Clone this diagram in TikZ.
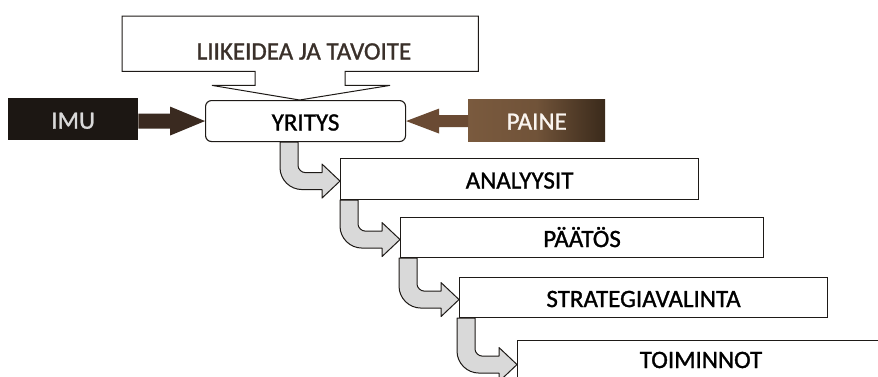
\documentclass[tikz,border=0pt]{standalone}
\usepackage{fontspec}
\setmainfont{Carlito}[FakeBold=1.1]
\usetikzlibrary{calc}
\definecolor{ink}{HTML}{1E1A17}
\definecolor{imubg}{HTML}{1C1713}
\definecolor{imuarrow}{HTML}{3A2A20}
\definecolor{painearrow}{HTML}{6A4A33}
\definecolor{painelight}{HTML}{7A5A3E}
\definecolor{painedark}{HTML}{3A2A1B}
\definecolor{bentfill}{HTML}{D9D9D9}
\definecolor{toptext}{HTML}{3A302A}
\newcommand{\bentarr}[2]{%
  \filldraw[bent] let \p1=(#1.south), \p2=($(#2.west)+(0,2)$) in
    (\x2-60pt,\y1) -- (\x2-60pt,\y2+13.5pt)
    .. controls (\x2-60pt,\y2+1.4pt) and (\x2-50.1pt,\y2-8.5pt) .. (\x2-38pt,\y2-8.5pt)
    -- (\x2-18pt,\y2-8.5pt) -- (\x2-18pt,\y2-17pt) -- (\x2,\y2)
    -- (\x2-18pt,\y2+17pt) -- (\x2-18pt,\y2+8.5pt) -- (\x2-35pt,\y2+8.5pt)
    .. controls (\x2-38.1pt,\y2+8.5pt) and (\x2-42pt,\y2+11.6pt) .. (\x2-42pt,\y2+15.5pt)
    -- (\x2-42pt,\y1) -- cycle;}
\begin{document}
\begin{tikzpicture}[x=1pt,y=-1pt,
  lbl/.style={font=\fontsize{25}{30}\selectfont, text height=19pt, text depth=0pt, inner sep=0pt},
  stage/.style={lbl, draw=ink, line width=1.1pt, fill=white, anchor=north west, minimum height=41pt},
  bent/.style={draw=ink, line width=1pt, fill=bentfill, line join=round},
  framebox/.style={draw=none, anchor=north west, inner sep=0pt},
]
\useasboundingbox (0,0) rectangle (878,376);
\clip (0,0) rectangle (878,376);
\fill[white] (0,0) rectangle (878,376);

% top frame
\node[framebox, minimum width=356pt, minimum height=55pt] (top) at (122,16) {};
\node[lbl, text=toptext] (toptxt) at (304,50) {LIIKEIDEA JA TAVOITE};

% YRITYS
\node[lbl, draw=ink, line width=1.1pt, rounded corners=6pt, fill=white,
      minimum width=200pt, minimum height=41pt, anchor=north west] (yr) at (205,100) {YRITYS};

% funnel outline of the top frame
\draw[ink, line width=1pt, line join=miter]
  (top.north west) -- (top.north east) -- (top.south east)
  -- ($(top.south west)+(223,0)$) -- ($(top.south west)+(223,14)$)
  -- ($(top.south west)+(268,14)$) -- ($(yr.north)+(-6,0)$)
  -- ($(top.south west)+(90,14)$) -- ($(top.south west)+(133,14)$)
  -- ($(top.south west)+(133,0)$) -- (top.south west) -- cycle;

% IMU and PAINE
\node[lbl, fill=imubg, text=white!85!black, minimum width=130pt, minimum height=42pt,
      anchor=north west] (imu) at (8,98) {IMU};
\shade[left color=painelight, right color=painedark, middle color=painelight!85!painedark]
  (468,99) rectangle (605,141);
\node[lbl, text=white!92!brown, minimum width=137pt, minimum height=42pt,
      anchor=north west] (pa) at (468,99) {PAINE};

\fill[imuarrow] let \p1=(imu.east), \p2=(yr.west) in
  (\x1,\y2+7.5pt) -- (\x2-35pt,\y2+7.5pt) -- (\x2-35pt,\y2+14.5pt) -- (\x2,\y2)
  -- (\x2-35pt,\y2-14.5pt) -- (\x2-35pt,\y2-7.5pt) -- (\x1,\y2-7.5pt) -- cycle;
\fill[painearrow] let \p1=(pa.west), \p2=(yr.east) in
  (\x1,\y2+6pt) -- (\x2+33pt,\y2+6pt) -- (\x2+33pt,\y2+12.5pt) -- (\x2,\y2)
  -- (\x2+33pt,\y2-12.5pt) -- (\x2+33pt,\y2-6pt) -- (\x1,\y2-6pt) -- cycle;

% stages
\node[stage, minimum width=358pt] (ana) at (340,158) {ANALYYSIT};
\node[stage, minimum width=363pt, minimum height=40pt] (paa) at (400,217) {PÄÄTÖS};
\node[stage, minimum width=368pt, minimum height=40pt] (str) at (459,277) {STRATEGIAVALINTA};
\node[stage, minimum width=368pt, minimum height=44pt] (toi) at (517,340) {};
\node[lbl, text height=16pt] (toitxt) at (701,360) {TOIMINNOT};

% bent arrows
\bentarr{yr}{ana}
\bentarr{ana}{paa}
\bentarr{paa}{str}
\bentarr{str}{toi}
\end{tikzpicture}
\end{document}
